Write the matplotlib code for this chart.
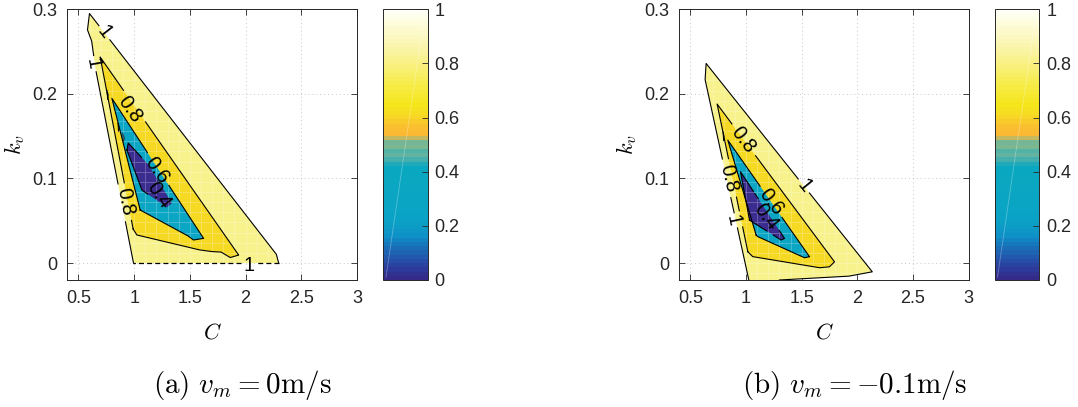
import numpy as np
import matplotlib
matplotlib.use('Agg')
import matplotlib.pyplot as plt
from matplotlib.patches import Polygon
from matplotlib.colors import LinearSegmentedColormap, Normalize
from matplotlib.cm import ScalarMappable

plt.rcParams['font.family'] = ['Liberation Sans', 'DejaVu Sans']
plt.rcParams['mathtext.fontset'] = 'cm'

W, H, DPI = 1078, 407, 100

# ---- values ----
x_ticks = [0.5, 1, 1.5, 2, 2.5, 3]
x_ticklabels = ['0.5', '1', '1.5', '2', '2.5', '3']
y_ticks = [0, 0.1, 0.2, 0.3]
y_ticklabels = ['0', '0.1', '0.2', '0.3']
cbar_ticks = [0, 0.2, 0.4, 0.6, 0.8, 1]
cbar_ticklabels = ['0', '0.2', '0.4', '0.6', '0.8', '1']

# fill colour of each band: 0.8-1, 0.6-0.8, 0.4-0.6, <0.4
band_colors = ['#F8F28C', '#F6D923', '#0BA6C3', '#3B2C8F']

# panel (a): v_m = 0 m/s, contour outlines (C, k_v)
a_lvl1 = [(0.994, 0.0), (0.650, 0.232), (0.620, 0.262), (0.581, 0.2755),
          (0.599, 0.295), (2.276, 0.0106), (2.297, 0.0)]
a_lvl08 = [(0.991, 0.0402), (0.695, 0.2436), (1.938, 0.0095), (1.863, 0.0065),
           (1.782, 0.013), (1.710, 0.0134), (1.593, 0.0154), (1.025, 0.0331)]
a_lvl06 = [(1.054, 0.0627), (0.800, 0.1948), (1.623, 0.0292), (1.533, 0.0272),
           (1.486, 0.0319)]
a_lvl04 = [(0.935, 0.1336), (0.947, 0.1419), (1.130, 0.116), (1.339, 0.0706),
           (1.294, 0.0659), (1.070, 0.0863)]
a_specks = [[(0.755, 0.205), (0.768, 0.199), (0.761, 0.193)],
            [(0.853, 0.166), (0.866, 0.160), (0.859, 0.155)],
            [(0.898, 0.154), (0.911, 0.148), (0.904, 0.143)]]
a_labels = [('1', 0.729, 0.273, -52), ('1', 0.629, 0.236, -80),
            ('0.8', 0.965, 0.182, -55), ('0.6', 1.204, 0.110, -55),
            ('0.4', 1.219, 0.080, -55), ('0.8', 0.920, 0.072, -79),
            ('1', 2.029, -0.0024, 0)]

# panel (b): v_m = -0.1 m/s
b_lvl1 = [(1.025, -0.02), (0.632, 0.2164), (0.641, 0.236), (2.135, -0.0103),
          (1.931, -0.0154), (1.300, -0.02)]
b_lvl08 = [(1.016, 0.0134), (0.740, 0.188), (1.796, 0.0015), (1.751, -0.0044),
           (1.661, -0.0055), (1.061, 0.0075)]
b_lvl06 = [(1.091, 0.0331), (0.836, 0.1454), (1.571, 0.0075), (1.526, 0.0063),
           (1.106, 0.0311)]
b_lvl04 = [(1.031, 0.0508), (0.950, 0.108), (1.346, 0.0292), (1.316, 0.0272)]
b_specks = [[(0.792, 0.156), (0.804, 0.150), (0.797, 0.144)]]
b_labels = [('0.8', 0.971, 0.1454, -53), ('0.8', 0.845, 0.100, -77),
            ('1', 1.526, 0.0914, -51), ('1', 0.887, 0.050, -78),
            ('0.6', 1.226, 0.0725, -53), ('0.4', 1.181, 0.0548, -53)]

# sample grid of the underlying surface (shows as a faint white mesh)
mesh_C = [0.5, 0.6, 0.7, 0.8, 0.9, 1.0, 1.1, 1.2, 1.3, 1.4, 1.5, 1.6, 1.7,
          1.8, 1.9, 2.0, 2.1, 2.2, 2.3]
mesh_k = [-0.012, 0.0, 0.012, 0.024, 0.036, 0.048, 0.06, 0.072, 0.084, 0.096,
          0.108, 0.12, 0.132, 0.144, 0.156, 0.168, 0.18, 0.192, 0.204, 0.216,
          0.228, 0.24, 0.252, 0.264, 0.276, 0.288]

captions = [r'$\mathrm{(a)}\ v_m = 0\mathrm{m/s}$',
            r'$\mathrm{(b)}\ v_m = -0.1\mathrm{m/s}$']

# colormap of the colour bar (parula-like, with the odd stripes around 0.5)
cmap_nodes = [(0.00, '#352A87'), (0.04, '#2C3E9E'), (0.08, '#2258AD'),
              (0.12, '#1872BA'), (0.16, '#0E92C6'), (0.22, '#0AA3C5'),
              (0.42, '#0AA8C0'), (0.44, '#3CADB0'), (0.46, '#62B4A0'),
              (0.475, '#4EB1A8'), (0.49, '#7DB890'), (0.505, '#6BB59A'),
              (0.52, '#A4BB7C'), (0.53, '#FBB632'), (0.57, '#FABF31'),
              (0.61, '#F6DB22'), (0.65, '#F5E61C'), (0.72, '#F6EB45'),
              (0.85, '#FAF4A2'), (1.00, '#FFFFF6')]
cmap = LinearSegmentedColormap.from_list('bar', cmap_nodes, N=64)

FS = 13          # tick labels
LFS = 14.5       # contour labels
LFS_PX = LFS * DPI / 72

fig = plt.figure(figsize=(W / DPI, H / DPI), dpi=DPI)
fig.patch.set_facecolor('white')


def px_axes(x0, y0, x1, y1):
    return fig.add_axes([x0 / W, 1 - y1 / H, (x1 - x0) / W, (y1 - y0) / H])


def label_boxes(ax, labels):
    boxes = []
    for s, x, y, rot in labels:
        cx, cy = ax.transData.transform((x, y))
        boxes.append((cx, cy, 0.56 * LFS_PX * len(s) + 4, 0.8 * LFS_PX, np.radians(rot)))
    return boxes


def broken_line(ax, verts, boxes, **kw):
    # draw a polyline, leaving a gap wherever a contour label sits
    pts = np.array(verts, dtype=float)
    pieces = []
    for p0, p1 in zip(pts[:-1], pts[1:]):
        t = np.linspace(0, 1, 120)[:, None]
        pieces.append(p0 + (p1 - p0) * t)
    dense = np.vstack(pieces)
    disp = ax.transData.transform(dense)
    hide = np.zeros(len(dense), dtype=bool)
    for cx, cy, w, h, th in boxes:
        dx, dy = disp[:, 0] - cx, disp[:, 1] - cy
        lx = dx * np.cos(th) + dy * np.sin(th)
        ly = -dx * np.sin(th) + dy * np.cos(th)
        hide |= (np.abs(lx) <= w / 2) & (np.abs(ly) <= h / 2)
    dense[hide] = np.nan
    ax.plot(dense[:, 0], dense[:, 1], **kw)


def scan(poly, c, vertical):
    # pieces of the line x=c (or y=c) that fall inside the polygon
    pts = list(poly) + [poly[0]]
    hits = []
    for (x0, y0), (x1, y1) in zip(pts[:-1], pts[1:]):
        a0, a1, b0, b1 = (x0, x1, y0, y1) if vertical else (y0, y1, x0, x1)
        if (a0 <= c < a1) or (a1 <= c < a0):
            hits.append(b0 + (c - a0) * (b1 - b0) / (a1 - a0))
    hits.sort()
    return list(zip(hits[0::2], hits[1::2]))


def panel(ax, polys, specks, labels, closing_style):
    ax.set_xlim(0.4, 3)
    ax.set_ylim(-0.02, 0.3)
    ax.set_xticks(x_ticks, x_ticklabels)
    ax.set_yticks(y_ticks, y_ticklabels)
    ax.tick_params(direction='in', length=4, width=0.6, top=True, right=True,
                   labelsize=FS, colors='#262626', pad=7)
    for sp in ax.spines.values():
        sp.set_linewidth(0.7)
        sp.set_color('#262626')
    ax.grid(True, color='#C8C8C8', linestyle=(0, (1, 3)), linewidth=0.7)
    ax.set_axisbelow(True)

    for verts, col in zip(polys, band_colors):
        ax.add_patch(Polygon(verts, closed=True, facecolor=col, edgecolor='none', zorder=1))
    for sp in specks:
        ax.add_patch(Polygon(sp, closed=True, facecolor=band_colors[2],
                             edgecolor='black', linewidth=0.5, zorder=1.2))

    # faint mesh inside the filled area
    mx, my = [], []
    for c in mesh_C:
        for lo, hi in scan(polys[0], c, True):
            mx += [c, c, np.nan]
            my += [lo, hi, np.nan]
    for k in mesh_k:
        for lo, hi in scan(polys[0], k, False):
            mx += [lo, hi, np.nan]
            my += [k, k, np.nan]
    ax.plot(mx, my, color='white', lw=0.6, alpha=0.28, zorder=1.5)

    # contour lines with gaps at the labels
    boxes = label_boxes(ax, labels)
    for i, verts in enumerate(polys):
        if i == 0:
            broken_line(ax, verts, boxes, color='black', lw=0.8, zorder=2)
            if closing_style is not None:
                broken_line(ax, [verts[-1], verts[0]], boxes, color='black', lw=0.9,
                            linestyle=closing_style, zorder=2)
        else:
            broken_line(ax, list(verts) + [verts[0]], boxes, color='black', lw=0.8,
                        zorder=2)

    for s, x, y, rot in labels:
        ax.text(x, y, s, rotation=rot, rotation_mode='anchor', ha='center',
                va='center', fontsize=LFS, color='black', zorder=4)


def colorbar(cax):
    cb = fig.colorbar(ScalarMappable(norm=Normalize(0, 1), cmap=cmap), cax=cax,
                      ticks=cbar_ticks)
    cb.ax.set_yticklabels(cbar_ticklabels)
    cb.ax.tick_params(direction='in', length=4, width=0.6, labelsize=FS,
                      colors='#262626', pad=5)
    cb.outline.set_linewidth(0.7)
    cb.outline.set_edgecolor('#262626')
    cax.plot([0.06, 0.92], [0.01, 0.97], transform=cax.transAxes, color='white',
             lw=0.6, alpha=0.3)


ax_a = px_axes(67.3, 9.3, 357.0, 280.0)
cax_a = px_axes(383.3, 9.3, 427.7, 280.0)
ax_b = px_axes(679.3, 9.3, 968.5, 280.0)
cax_b = px_axes(994.8, 9.3, 1039.2, 280.0)

panel(ax_a, [a_lvl1, a_lvl08, a_lvl06, a_lvl04], a_specks, a_labels, (0, (4, 2.5)))
panel(ax_b, [b_lvl1, b_lvl08, b_lvl06, b_lvl04], b_specks, b_labels, None)
colorbar(cax_a)
colorbar(cax_b)

# axis labels and sub-captions
for xc in [212.0, 824.0]:
    fig.text(xc / W, 1 - 333 / H, r'$C$', fontsize=16, ha='center', va='center')
for xk in [15.0, 627.0]:
    fig.text(xk / W, 1 - 145 / H, r'$k_v$', fontsize=16, ha='center', va='center',
             rotation=90)
fig.text(242 / W, 1 - 385 / H, captions[0], fontsize=21, ha='center', va='center')
fig.text(855 / W, 1 - 385 / H, captions[1], fontsize=21, ha='center', va='center')

fig.savefig('out.png', dpi=DPI, facecolor='white')
plt.close(fig)
